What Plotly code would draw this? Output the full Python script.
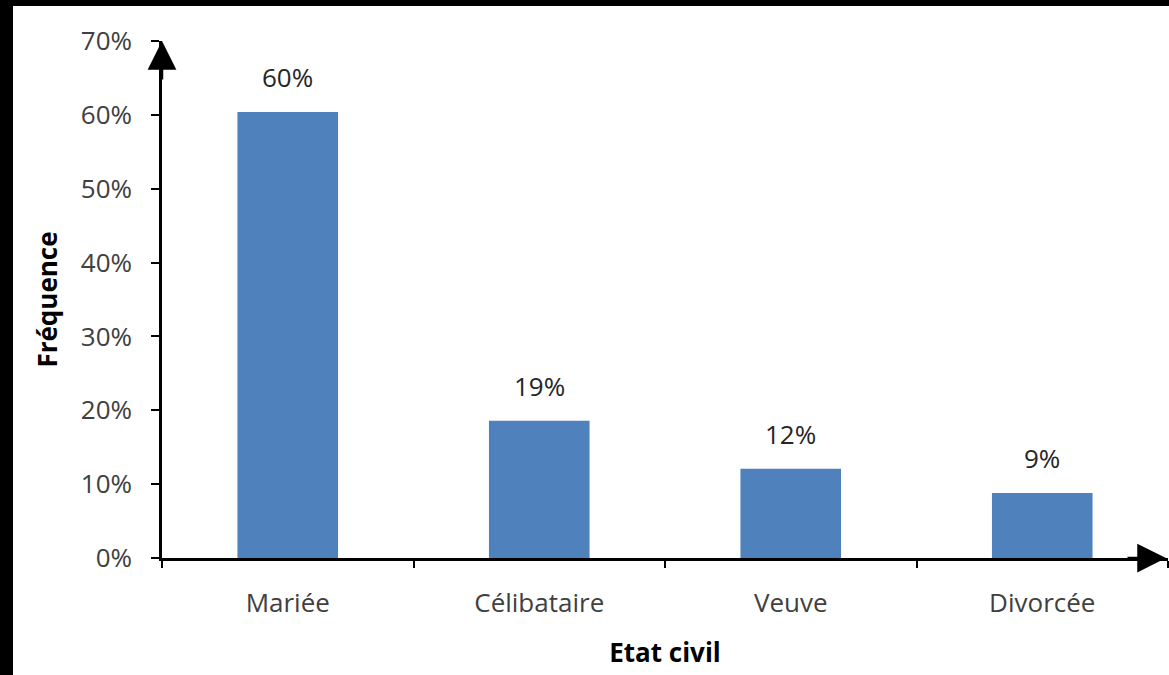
import plotly.graph_objects as go

categories = ["Mariée", "Célibataire", "Veuve", "Divorcée"]
values = [0.604, 0.186, 0.121, 0.088]
labels = ["60%", "19%", "12%", "9%"]
y_ticks = [0, 0.1, 0.2, 0.3, 0.4, 0.5, 0.6, 0.7]
y_ticktext = ["0%", "10%", "20%", "30%", "40%", "50%", "60%", "70%"]

W, H = 1169, 675
ml, mr, mt, mb = 162, 1, 41, 117
pw, ph = W - ml - mr, H - mt - mb

font = "Open Sans, Liberation Sans, sans-serif"
fs = 26

fig = go.Figure()
fig.add_trace(go.Bar(
    x=categories, y=values, width=0.4,
    marker=dict(color="#4F81BD", line=dict(width=0)),
    hoverinfo="skip",
))

for c, v, t in zip(categories, values, labels):
    fig.add_annotation(x=c, y=v, text=t, showarrow=False, yanchor="bottom",
                       yshift=15, font=dict(size=fs, color="#262626", family=font))

# axis arrows
fig.add_annotation(x=0, y=1, xref="paper", yref="paper", ax=0, ay=40,
                   showarrow=True, arrowhead=2, arrowsize=2.3, arrowwidth=2.5,
                   arrowcolor="black", text="")
fig.add_annotation(x=1.0 - 2 / pw, y=0, xref="paper", yref="paper", ax=-40, ay=0,
                   showarrow=True, arrowhead=2, arrowsize=2.3, arrowwidth=2.5,
                   arrowcolor="black", text="")

# black border strips
fig.add_shape(type="rect", xref="paper", yref="paper",
              x0=(0 - ml) / pw, x1=(W - ml) / pw,
              y0=(H - mb - 6) / ph, y1=(H - mb) / ph,
              fillcolor="black", line=dict(width=0), layer="above")
fig.add_shape(type="rect", xref="paper", yref="paper",
              x0=(0 - ml) / pw, x1=(13 - ml) / pw,
              y0=-mb / ph, y1=(H - mb) / ph,
              fillcolor="black", line=dict(width=0), layer="above")

fig.update_layout(
    width=W, height=H,
    margin=dict(l=ml, r=mr, t=mt, b=mb),
    paper_bgcolor="white", plot_bgcolor="white",
    showlegend=False,
    font=dict(family=font, size=fs, color="#404040"),
    xaxis=dict(
        range=[-0.5, 3.5], showline=True, linecolor="black", linewidth=2.5,
        ticks="outside", tickson="boundaries", ticklen=7, tickwidth=1.5,
        tickcolor="black", showgrid=False, zeroline=False,
        tickfont=dict(size=fs, color="#404040", family=font),
        ticklabelstandoff=20,
        title=dict(text="<b>Etat civil</b>", font=dict(size=fs, color="black", family=font),
                   standoff=25),
    ),
    yaxis=dict(
        range=[0, 0.7], tickvals=y_ticks, ticktext=y_ticktext,
        showline=True, linecolor="black", linewidth=2.5,
        ticks="outside", ticklen=8, tickwidth=1.5, tickcolor="black",
        showgrid=False, zeroline=False,
        tickfont=dict(size=fs, color="#404040", family=font),
        ticklabelstandoff=14,
        title=dict(text="<b>Fréquence</b>", font=dict(size=fs, color="black", family=font),
                   standoff=16),
    ),
)

fig.write_html("out.html")
